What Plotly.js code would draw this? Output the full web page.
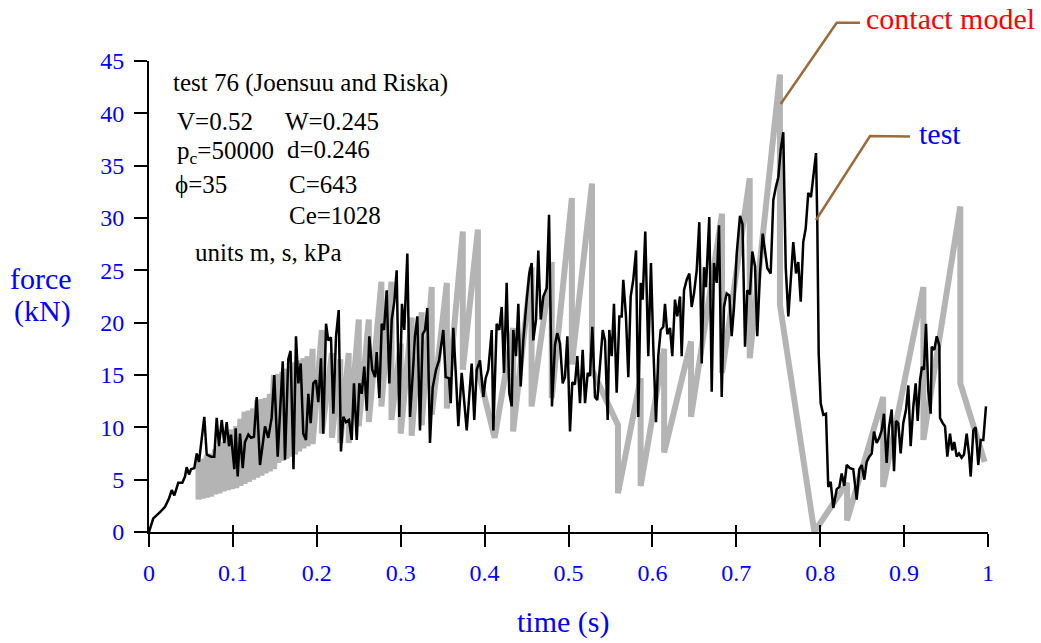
<!DOCTYPE html>
<html>
<head>
<meta charset="utf-8">
<script src="https://cdn.plot.ly/plotly-3.0.1.min.js"></script>
<style>html,body{margin:0;padding:0;background:#fff;}#chart{width:1041px;height:643px;}</style>
</head>
<body>
<div id="chart"></div>
<script>
// ---- data ----
const xTicks = [0, 0.1, 0.2, 0.3, 0.4, 0.5, 0.6, 0.7, 0.8, 0.9, 1];
const xTickText = ["0", "0.1", "0.2", "0.3", "0.4", "0.5", "0.6", "0.7", "0.8", "0.9", "1"];
const yTicks = [0, 5, 10, 15, 20, 25, 30, 35, 40, 45];

// test (measured force)
const testT = [0,0.0051,0.0131,0.0191,0.0238,0.0271,0.0302,0.0349,0.0397,0.0429,0.0449,0.0477,0.0501,0.0540,0.0569,0.0596,
0.0659,0.0688,0.0739,0.0778,0.0807,0.0834,0.0867,0.0897,0.0926,0.0954,0.0977,0.1017,0.1033,0.1057,0.1085,0.1117,0.1144,
0.1184,0.1216,0.1251,0.1284,0.1323,0.1383,0.1422,0.1462,0.1493,0.1534,0.1594,0.1621,0.1660,0.1687,0.1722,0.1752,0.1780,
0.1808,0.1839,0.1871,0.1899,0.1927,0.1958,0.1990,0.2018,0.2050,0.2077,0.2110,0.2137,0.2169,0.2197,0.2229,0.2261,0.2288,
0.2316,0.2348,0.2384,0.2416,0.2443,0.2476,0.2507,0.2535,0.2566,0.2595,0.2626,0.2661,0.2694,0.2714,0.2745,0.2774,0.2801,
0.2833,0.2864,0.2893,0.2924,0.2952,0.2983,0.3015,0.3043,0.3079,0.3111,0.3143,0.3170,0.3198,0.3230,0.3262,0.3290,0.3317,
0.3349,0.3381,0.3421,0.3457,0.3508,0.3536,0.3576,0.3596,0.3627,0.3659,0.3687,0.3727,0.3754,0.3787,0.3818,0.3846,0.3877,
0.3906,0.3945,0.3985,0.4013,0.4044,0.4085,0.4104,0.4144,0.4175,0.4204,0.4231,0.4263,0.4294,0.4323,0.4342,0.4374,0.4402,
0.4430,0.4461,0.4502,0.4533,0.4561,0.4580,0.4613,0.4640,0.4669,0.4700,0.4740,0.4768,0.4803,0.4839,0.4866,0.4899,0.4931,
0.4958,0.4986,0.5018,0.5045,0.5077,0.5105,0.5137,0.5169,0.5197,0.5229,0.5256,0.5284,0.5316,0.5343,0.5375,0.5408,0.5435,
0.5467,0.5486,0.5515,0.5542,0.5574,0.5606,0.5634,0.5653,0.5685,0.5713,0.5741,0.5772,0.5805,0.5832,0.5861,0.5884,0.5915,
0.5951,0.5983,0.6011,0.6043,0.6070,0.6099,0.6130,0.6150,0.6178,0.6210,0.6237,0.6269,0.6297,0.6329,0.6349,0.6377,0.6409,
0.6440,0.6468,0.6496,0.6528,0.6559,0.6588,0.6615,0.6639,0.6678,0.6707,0.6734,0.6766,0.6794,0.6826,0.6853,0.6885,0.6917,
0.6945,0.6973,0.7005,0.7044,0.7074,0.7104,0.7131,0.7163,0.7191,0.7223,0.7250,0.7282,0.7315,0.7370,0.7410,0.7441,0.7473,
0.7501,0.7529,0.7560,0.7589,0.7620,0.7652,0.7679,0.7712,0.7739,0.7768,0.7798,0.7827,0.7858,0.7890,0.7918,0.7950,0.7965,
0.7982,0.8006,0.8037,0.8069,0.8096,0.8125,0.8156,0.8197,0.8228,0.8256,0.8287,0.8316,0.8355,0.8394,0.8435,0.8466,0.8495,
0.8526,0.8554,0.8585,0.8614,0.8641,0.8673,0.8704,0.8733,0.8760,0.8792,0.8820,0.8852,0.8880,0.8903,0.8931,0.8959,0.8990,
0.9023,0.9050,0.9078,0.9110,0.9138,0.9162,0.9190,0.9213,0.9237,0.9261,0.9289,0.9317,0.9329,0.9360,0.9389,0.9420,0.9428,
0.9460,0.9488,0.9515,0.9547,0.9574,0.9598,0.9627,0.9654,0.9686,0.9714,0.9746,0.9773,0.9794,0.9825,0.9853,0.9884,0.9913,
0.9944,0.9976];
const testF = [0,1.3,1.9,2.4,3.2,4.0,3.5,4.7,4.7,5.3,6.2,5.5,6.0,6.1,7.5,6.7,
11.0,7.4,7.2,7.2,10.9,8.2,10.7,8.5,10.5,8.2,9.3,6.0,9.9,5.3,9.4,6.1,8.6,
9.3,9.0,9.1,12.9,6.4,10.1,9.0,10.9,15.0,7.2,16.3,6.9,16.5,17.3,6.0,18.7,14.2,
16.1,9.4,8.8,13.2,10.4,14.2,14.5,12.4,16.6,9.4,19.9,18.3,18.6,11.3,18.7,21.2,7.7,
11.0,10.5,10.7,8.8,14.2,8.8,14.2,13.2,15.8,11.6,18.7,15.5,14.8,17.2,12.8,19.9,19.3,
23.1,14.2,20.3,22.0,25.0,11.0,21.8,19.3,26.6,11.0,15.0,18.7,20.6,9.7,18.9,19.3,21.4,
8.5,13.8,15.5,16.4,19.3,14.8,14.7,12.3,19.5,14.8,10.1,15.2,12.6,9.7,13.1,16.1,10.7,
15.5,16.4,12.9,14.7,15.5,19.3,9.7,19.9,19.3,21.5,15.2,23.8,13.3,12.0,19.3,16.8,21.8,
13.9,18.3,22.2,24.7,25.7,18.3,20.3,26.9,20.3,22.5,23.3,30.3,12.0,17.9,19.0,18.0,14.2,
14.8,18.7,9.6,14.3,14.1,16.8,12.3,17.4,12.3,15.2,14.9,19.6,12.9,12.6,15.8,19.3,18.3,
10.7,19.3,16.8,21.8,13.3,20.6,20.6,24.1,20.6,14.8,22.5,24.1,26.9,11.0,23.8,22.2,28.7,
16.8,25.7,17.6,10.5,16.8,19.3,19.6,21.8,18.9,19.5,16.8,22.2,20.6,22.5,16.8,23.1,24.1,
24.7,21.5,22.8,25.0,29.6,16.1,25.3,23.4,30.1,13.4,25.7,23.8,29.3,12.9,21.5,22.8,22.6,
18.7,21.5,26.6,30.2,29.4,17.7,23.1,22.7,26.8,25.4,18.7,24.7,28.5,25.2,24.7,31.7,33.0,
33.9,36.5,38.2,25.3,20.6,24.4,27.7,24.7,25.8,22.0,27.7,29.0,32.4,32.0,33.9,36.2,29.8,
17.1,12.3,11.2,11.3,4.3,4.8,2.3,4.1,4.3,5.6,4.4,6.4,6.1,6.0,3.1,6.0,6.4,
5.0,6.7,7.2,7.5,9.6,8.5,9.0,9.7,11.3,6.6,10.0,11.7,5.8,10.6,10.4,7.5,10.4,
11.7,14.0,8.2,12.0,14.2,10.6,14.5,15.8,15.5,19.9,13.4,11.3,17.7,17.4,18.7,17.8,10.9,
10.4,10.1,7.2,9.4,7.8,8.6,7.2,7.5,7.1,7.4,9.4,7.5,5.3,9.7,10.0,6.4,8.8,
8.8,12.0];

// contact model (sawtooth)
const modelT = [0.059,0.059,0.064,0.064,0.069,0.069,0.074,0.074,0.079,0.079,0.084,0.084,0.089,0.089,0.094,0.094,
0.099,0.099,0.104,0.104,0.109,0.109,0.114,0.114,0.119,0.119,0.124,0.124,0.129,0.129,0.134,0.134,0.139,0.139,
0.144,0.144,0.149,0.149,0.154,0.154,0.159,0.159,0.164,0.164,0.169,0.169,0.174,0.174,0.179,0.179,0.184,0.184,
0.189,0.189,0.195,0.195,
0.206,0.206,0.218,0.218,0.228,0.228,0.238,0.238,0.250,0.250,0.262,0.262,0.277,0.277,0.289,0.289,0.300,0.300,
0.313,0.313,0.325,0.325,0.337,0.337,0.355,0.355,0.374,0.374,0.392,0.392,0.412,0.434,0.434,0.456,0.456,0.480,0.480,
0.504,0.504,0.528,0.528,0.559,0.559,0.586,0.586,0.614,0.614,0.646,0.646,0.683,0.683,0.716,0.716,0.752,0.752,
0.793,0.832,0.832,0.875,0.875,0.923,0.923,0.967,0.967,0.996];
const modelF = [6.9,3.1,7.0,3.2,7.3,3.3,7.5,3.4,7.9,3.6,8.2,3.7,8.6,3.9,9.2,4.0,
9.8,4.1,10.1,4.2,10.8,4.4,11.5,4.6,11.6,4.8,11.8,5.0,12.6,5.2,12.7,5.4,12.8,5.6,
13.2,5.8,15.0,6.0,15.1,6.6,15.3,6.8,15.6,7.0,15.8,7.2,16.2,7.4,16.4,7.7,16.6,8.0,
16.8,8.2,17.5,8.4,
19.3,9.4,17.1,9.0,16.5,8.5,17.1,8.5,20.3,10.1,20.3,10.5,23.9,12.0,23.9,10.7,18.0,9.4,
20.5,9.2,21.0,10.2,23.4,11.2,23.8,11.8,28.7,15.5,28.9,15.5,9.0,19.5,9.6,25.3,12.0,25.8,12.8,
31.9,16.0,33.3,15.5,10.2,3.7,14.7,4.4,17.5,7.6,18.2,11.0,30.4,15.2,33.8,16.6,43.7,21.7,
0,4.7,1.1,12.9,4.3,23.4,8.8,31.1,14.2,6.7];

// ---- rendering ----
const FONT = "Liberation Serif, Times New Roman, serif";
const L = 149, R = 988, T = 61, B = 532;
function px(x) { return (x - L) / (R - L); }
function py(y) { return (B - y) / (B - T); }
function ann(text, x, y, size, color, xanchor) {
  return {text: text, xref: 'paper', yref: 'paper', x: px(x), y: py(y),
    xanchor: xanchor || 'left', yanchor: 'middle', showarrow: false,
    font: {family: FONT, size: size, color: color}};
}
function leader(pts) {
  let p = 'M ' + pts.map(q => px(q[0]) + ',' + py(q[1])).join(' L ');
  return {type: 'path', xref: 'paper', yref: 'paper', path: p,
    line: {color: '#9c6b3a', width: 2.5}};
}

const traces = [
  {x: modelT, y: modelF, mode: 'lines', line: {color: '#b4b4b4', width: 6}, hoverinfo: 'skip'},
  {x: testT, y: testF, mode: 'lines', line: {color: '#000000', width: 2.5}, hoverinfo: 'skip'},
  {x: [0], y: [0], xaxis: 'x2', yaxis: 'y', mode: 'markers', marker: {size: 1, opacity: 0}, hoverinfo: 'skip'}
];

const txt = 25, lab = 30, tick = 24;
const layout = {
  width: 1041, height: 643,
  margin: {l: L, r: 1041 - R, t: T, b: 643 - B, pad: 0},
  paper_bgcolor: '#ffffff', plot_bgcolor: '#ffffff',
  showlegend: false,
  font: {family: FONT, size: tick, color: '#0000ff'},
  xaxis: {range: [0, 1], tickvals: xTicks, ticktext: xTickText, ticks: 'outside', ticklen: 13,
    tickwidth: 2, tickcolor: '#000', showline: true, linewidth: 2, linecolor: '#000',
    showgrid: false, zeroline: false, tickfont: {family: FONT, size: tick, color: '#0000ff'},
    ticklabelstandoff: 5, fixedrange: true},
  xaxis2: {overlaying: 'x', anchor: 'y', side: 'bottom', range: [0, 1], tickvals: xTicks,
    ticks: 'inside', ticklen: 7, tickwidth: 2, tickcolor: '#000', showticklabels: false,
    showline: false, showgrid: false, zeroline: false, fixedrange: true},
  yaxis: {range: [0, 45], tickvals: yTicks, ticks: 'outside', ticklen: 13, tickwidth: 2,
    tickcolor: '#000', showline: true, linewidth: 2, linecolor: '#000', showgrid: false,
    zeroline: false, tickfont: {family: FONT, size: tick, color: '#0000ff'},
    ticklabelstandoff: 5, fixedrange: true},
  annotations: [
    ann('test 76 (Joensuu and Riska)', 171, 83, txt, '#000'),
    ann('V=0.52', 175, 122, txt, '#000'),
    ann('W=0.245', 283, 122, txt, '#000'),
    ann('p<sub>c</sub>=50000', 175, 152, txt, '#000'),
    ann('d=0.246', 285, 149, txt, '#000'),
    ann('\u03D5=35', 173, 184, txt, '#000'),
    ann('C=643', 287, 184, txt, '#000'),
    ann('Ce=1028', 287, 215, txt, '#000'),
    ann('units m, s, kPa', 193, 252, txt, '#000'),
    ann('contact model', 864, 18, lab, '#ff0000'),
    ann('test', 917, 133, lab, '#0000ff'),
    ann('force', 41, 278, lab, '#0000ff', 'center'),
    ann('(kN)', 43, 311, lab, '#0000ff', 'center'),
    ann('time (s)', 563, 622, lab, '#0000ff', 'center')
  ],
  shapes: [
    leader([[780.7, 104], [836.7, 22.7], [860, 22.7]]),
    leader([[816, 220], [870, 136], [910, 136.5]])
  ]
};

Plotly.newPlot('chart', traces, layout, {staticPlot: true, displayModeBar: false});
</script>
</body>
</html>
